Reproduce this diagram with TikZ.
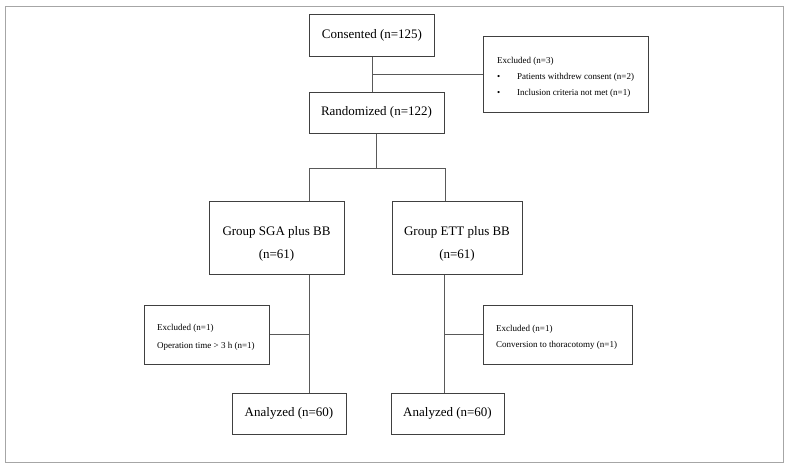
\documentclass[tikz,border=0pt]{standalone}
\usepackage{fontspec}
\setmainfont{Liberation Serif}
\begin{document}
\begin{tikzpicture}[x=1pt,y=-1pt,
  box/.style={draw=black!75, line width=1pt, inner sep=0pt, fill=white},
  big/.style={font=\fontsize{13}{23}\selectfont, align=center},
  small/.style={font=\fontsize{9}{11}\selectfont, inner sep=0pt, anchor=west},
  conn/.style={draw=black!65, line width=1pt}]
\useasboundingbox (0,0) rectangle (789,466);
\draw[black!35, line width=1pt] (5,6) rectangle (783,462);
% main boxes
\node[box, big, minimum width=125pt, minimum height=42pt] (cons) at (372,35) {Consented (n=125)};
\node[box, big, minimum width=135pt, minimum height=41pt] (rand) at (376.5,112.5) {Randomized (n=122)};
\node[box, big, minimum width=135pt, minimum height=73pt] (sga) at (276.5,237.5) {\rule{0pt}{21pt}Group SGA plus BB\\(n=61)};
\node[box, big, minimum width=130pt, minimum height=73pt] (ett) at (457,237.5) {\rule{0pt}{21pt}Group ETT plus BB\\(n=61)};
\node[box, big, minimum width=114pt, minimum height=41pt] (anL) at (289,413.5) {Analyzed (n=60)};
\node[box, big, minimum width=113pt, minimum height=41pt] (anR) at (447.5,413.5) {Analyzed (n=60)};
% exclusion boxes
\node[box, minimum width=165pt, minimum height=76pt] (exT) at (565.5,74) {};
\node[small] (exTa) at (497,61) {Excluded (n=3)};
\node[small] (exTb) at (497,77) {\textbullet};
\node[small] (exTc) at (517,77) {Patients withdrew consent (n=2)};
\node[small] (exTd) at (497,93) {\textbullet};
\node[small] (exTe) at (517,93) {Inclusion criteria not met (n=1)};
\node[box, minimum width=125pt, minimum height=59pt] (exL) at (207,334.5) {};
\node[small] (exLa) at (157,328) {Excluded (n=1)};
\node[small] (exLb) at (157,346) {Operation time > 3 h (n=1)};
\node[box, minimum width=149pt, minimum height=59pt] (exR) at (557.5,334.5) {};
\node[small] (exRa) at (496,329) {Excluded (n=1)};
\node[small] (exRb) at (496,345) {Conversion to thoracotomy (n=1)};
% coordinates
\coordinate (sM) at (376.5,168);
\coordinate (sL) at (309.5,168);
\coordinate (sR) at (445,168);
\coordinate (cR) at (444,168);
% connectors
\draw[conn] (cons.south) -- (cons.south |- rand.north);
\draw[conn] (cons.south |- exT.west) -- (exT.west);
\draw[conn] (rand.south) -- (sM);
\draw[conn] (sL) -- (sR);
\draw[conn] (sL) -- (sL |- sga.north);
\draw[conn] (sR) -- (sR |- ett.north);
\draw[conn] (sga.south -| sL) -- (sL |- anL.north);
\draw[conn] (exL.east) -- (exL.east -| sL);
\draw[conn] (ett.south -| cR) -- (cR |- anR.north);
\draw[conn] (exR.west -| cR) -- (exR.west);
\end{tikzpicture}
\end{document}
